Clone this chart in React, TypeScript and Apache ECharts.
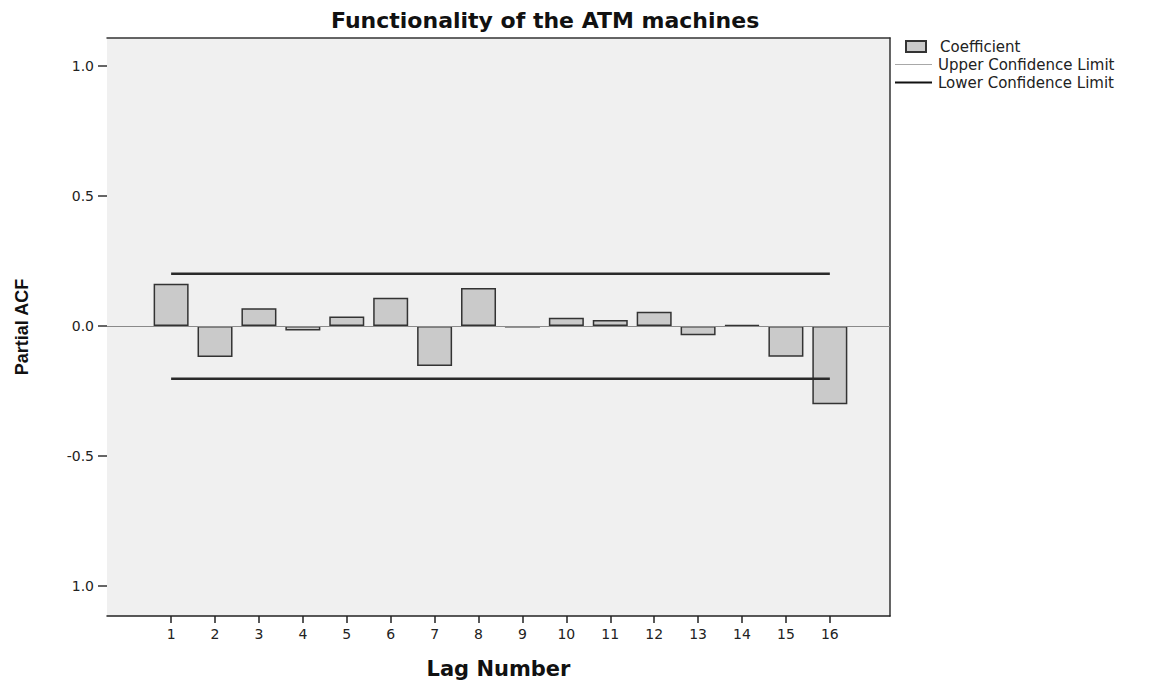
import React, { useEffect, useRef } from "react";
import * as echarts from "echarts";

const lags = [1, 2, 3, 4, 5, 6, 7, 8, 9, 10, 11, 12, 13, 14, 15, 16];
const coefficient = [0.162, -0.119, 0.068, -0.017, 0.036, 0.109, -0.154, 0.146, -0.006, 0.032, 0.023, 0.055, -0.036, 0.003, -0.118, -0.301];
const upperLimit = [0.201, 0.201, 0.201, 0.201, 0.201, 0.201, 0.201, 0.201, 0.201, 0.201, 0.201, 0.201, 0.201, 0.201, 0.201, 0.201];
const lowerLimit = [-0.203, -0.203, -0.203, -0.203, -0.203, -0.203, -0.203, -0.203, -0.203, -0.203, -0.203, -0.203, -0.203, -0.203, -0.203, -0.203];
const yTicks = [1.0, 0.5, 0.0, -0.5, -1.0];
const yTickLabels = ["1.0", "0.5", "0.0", "-0.5", "1.0"];

export default function App() {
  const ref = useRef<HTMLDivElement>(null);
  useEffect(() => {
    if (!ref.current) return;
    const chart = echarts.init(ref.current, null, { renderer: "svg" });
    const font = "DejaVu Sans";
    const xMin = -0.46;
    const xMax = 17.37;
    const yMin = -1.116;
    const yMax = 1.108;
    const legendText = { fontFamily: font, fontSize: 15, color: "#222" };
    chart.setOption({
      animation: false,
      backgroundColor: "#ffffff",
      title: {
        text: "Functionality of the ATM machines",
        left: 331,
        top: 9,
        padding: 0,
        textStyle: { fontFamily: font, fontWeight: "bold", fontSize: 22, color: "#111" },
      },
      legend: [
        {
          data: [{ name: "Coefficient", icon: "rect" }],
          orient: "vertical",
          left: 905,
          top: 39,
          padding: 0,
          itemWidth: 20,
          itemHeight: 11,
          textStyle: { ...legendText, padding: [0, 0, 0, 9] },
        },
        {
          data: [{ name: "Upper Confidence Limit", icon: "rect", itemStyle: { color: "#a8a8a8", borderWidth: 0 } }],
          orient: "vertical",
          left: 895,
          top: 57,
          padding: 0,
          itemWidth: 37,
          itemHeight: 1,
          textStyle: { ...legendText, padding: [0, 0, 0, 1] },
        },
        {
          data: [{ name: "Lower Confidence Limit", icon: "rect", itemStyle: { color: "#111", borderWidth: 0 } }],
          orient: "vertical",
          left: 895,
          top: 75,
          padding: 0,
          itemWidth: 37,
          itemHeight: 2,
          textStyle: { ...legendText, padding: [0, 0, 0, 1] },
        },
      ],
      grid: {
        left: 107,
        right: 282,
        top: 38,
        bottom: 69,
        show: true,
        backgroundColor: "#f0f0f0",
        borderWidth: 0,
      },
      xAxis: [
        {
          type: "value",
          min: xMin,
          max: xMax,
          name: "Lag Number",
          nameLocation: "middle",
          nameGap: 42,
          nameTextStyle: { fontFamily: font, fontWeight: "bold", fontSize: 21, color: "#111" },
          axisLine: { show: true, onZero: false, lineStyle: { color: "#222", width: 1.5 } },
          axisTick: { show: true, customValues: lags, length: 7, lineStyle: { color: "#222", width: 1.5 } },
          axisLabel: {
            customValues: lags,
            margin: 11,
            fontFamily: font,
            fontSize: 14,
            color: "#222",
            formatter: (v: number) => String(v),
          },
          splitLine: { show: false },
        },
        {
          type: "value",
          position: "top",
          min: xMin,
          max: xMax,
          axisLine: { show: true, onZero: false, lineStyle: { color: "#333", width: 1.5 } },
          axisTick: { show: false },
          axisLabel: { show: false },
          splitLine: { show: false },
        },
      ],
      yAxis: [
        {
          type: "value",
          min: yMin,
          max: yMax,
          name: "Partial ACF",
          nameLocation: "middle",
          nameRotate: 90,
          nameGap: 76,
          nameTextStyle: { fontFamily: "Liberation Sans", fontWeight: "bold", fontSize: 18, color: "#111" },
          axisLine: { show: false, onZero: false },
          axisTick: { show: true, customValues: yTicks, length: 9, lineStyle: { color: "#333", width: 1.5 } },
          axisLabel: {
            customValues: yTicks,
            margin: 13,
            fontFamily: font,
            fontSize: 14,
            color: "#222",
            formatter: (v: number) => {
              const i = yTicks.findIndex((t) => Math.abs(t - v) < 1e-6);
              return i >= 0 ? yTickLabels[i] : "";
            },
          },
          splitLine: { show: false },
        },
        {
          type: "value",
          position: "right",
          min: yMin,
          max: yMax,
          axisLine: { show: true, onZero: false, lineStyle: { color: "#333", width: 1.5 } },
          axisTick: { show: false },
          axisLabel: { show: false },
          splitLine: { show: false },
        },
      ],
      series: [
        {
          name: "Coefficient",
          type: "bar",
          barWidth: 35,
          data: lags.map((l, i) => [l, coefficient[i]]),
          itemStyle: { color: "#cacaca", borderColor: "#333", borderWidth: 1.5 },
          markLine: {
            silent: true,
            symbol: "none",
            label: { show: false },
            lineStyle: { color: "#8a8a8a", width: 1, type: "solid" },
            data: [{ yAxis: 0 }],
          },
          z: 2,
        },
        {
          name: "Upper Confidence Limit",
          type: "line",
          symbol: "none",
          data: lags.map((l, i) => [l, upperLimit[i]]),
          lineStyle: { color: "#2a2a2a", width: 2.5 },
          z: 3,
        },
        {
          name: "Lower Confidence Limit",
          type: "line",
          symbol: "none",
          data: lags.map((l, i) => [l, lowerLimit[i]]),
          lineStyle: { color: "#2a2a2a", width: 2.5 },
          z: 3,
        },
      ],
    });
    return () => chart.dispose();
  }, []);
  return (
    <div
      ref={ref}
      style={{ position: "fixed", left: 0, top: 0, width: 1172, height: 685 }}
    />
  );
}
